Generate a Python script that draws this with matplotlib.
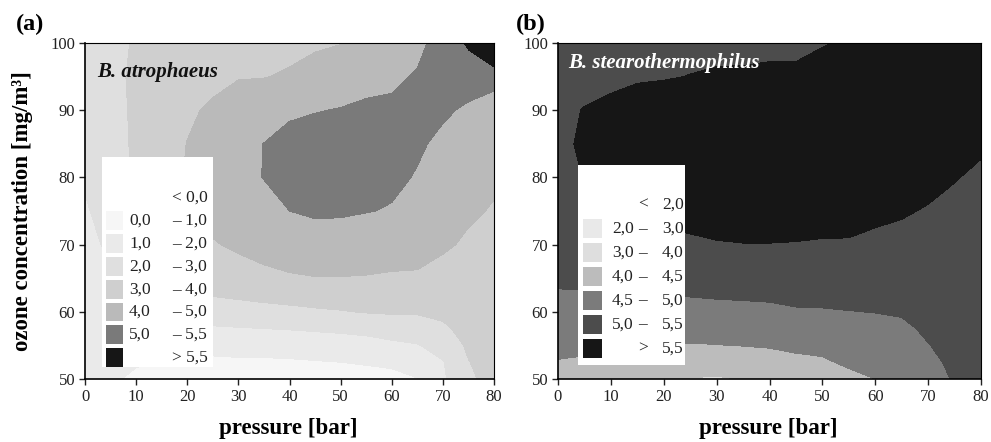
import matplotlib
matplotlib.use('Agg')
import matplotlib.pyplot as plt
import numpy as np
from matplotlib.patches import Rectangle

plt.rcParams['font.family'] = ['Liberation Serif', 'DejaVu Serif']

# grid: pressure [bar] x ozone [mg/m3]
pressure = [0, 5, 10, 15, 20, 25, 30, 35, 40, 45, 50, 55, 60, 65, 70, 75, 80]
ozone = [50, 52.5, 55, 57.5, 60, 62.5, 65, 70, 75, 80, 85, 90, 95, 100]

# log reduction, one list per pressure value (ozone from 50 to 100)
logred_a = [
    [1.3, 1.35, 1.45, 1.5, 1.55, 1.6, 1.65, 1.75, 1.9, 2.1, 2.4, 2.5, 2.55, 2.6],
    [1.08, 1.2, 1.3, 1.45, 1.6, 1.75, 1.9, 2.15, 2.4, 2.6, 2.75, 2.8, 2.85, 2.85],
    [0.9, 1.05, 1.25, 1.5, 1.8, 2.1, 2.4, 2.8, 3.05, 3.1, 3.1, 3.1, 3.1, 3.05],
    [0.8, 0.99, 1.3, 1.7, 2.1, 2.5, 2.85, 3.3, 3.55, 3.6, 3.55, 3.45, 3.3, 3.2],
    [0.75, 0.95, 1.3, 1.95, 2.5, 3.0, 3.3, 3.75, 3.97, 4.08, 4.02, 3.85, 3.5, 3.3],
    [0.72, 0.85, 1.25, 1.9, 2.5, 3.05, 3.35, 3.93, 4.3, 4.45, 4.4, 4.15, 3.75, 3.45],
    [0.72, 0.88, 1.3, 1.95, 2.6, 3.15, 3.6, 4.15, 4.55, 4.8, 4.75, 4.45, 3.95, 3.55],
    [0.72, 0.88, 1.32, 2.0, 2.7, 3.25, 3.8, 4.3, 4.75, 5.02, 5.01, 4.65, 3.97, 3.65],
    [0.72, 0.9, 1.38, 2.05, 2.8, 3.3, 3.9, 4.5, 5.0, 5.2, 5.2, 4.9, 4.1, 3.75],
    [0.72, 0.95, 1.45, 2.12, 2.88, 3.4, 3.97, 4.6, 5.12, 5.25, 5.3, 4.97, 4.4, 3.85],
    [0.74, 1.0, 1.5, 2.2, 2.95, 3.45, 3.97, 4.6, 5.1, 5.25, 5.3, 5.03, 4.65, 3.97],
    [0.78, 1.05, 1.6, 2.3, 3.05, 3.5, 3.95, 4.5, 5.03, 5.2, 5.25, 5.08, 4.85, 4.15],
    [0.84, 1.1, 1.8, 2.45, 3.1, 3.5, 3.9, 4.4, 4.95, 5.15, 5.2, 5.1, 4.9, 4.45],
    [0.98, 1.3, 1.95, 2.5, 3.1, 3.45, 3.9, 4.3, 4.6, 4.95, 5.1, 5.15, 5.05, 4.85],
    [1.85, 1.95, 2.35, 2.85, 3.2, 3.45, 3.75, 4.1, 4.4, 4.6, 4.85, 5.1, 5.25, 5.25],
    [2.85, 2.97, 3.15, 3.3, 3.45, 3.6, 3.7, 3.9, 4.1, 4.4, 4.6, 4.9, 5.3, 5.55],
    [3.3, 3.4, 3.45, 3.5, 3.55, 3.6, 3.7, 3.8, 3.95, 4.1, 4.35, 4.6, 5.3, 6.0],
]

logred_b = [
    [4.3, 4.48, 4.6, 4.72, 4.85, 4.97, 5.05, 5.15, 5.25, 5.3, 5.35, 5.38, 5.3, 5.2],
    [4.25, 4.45, 4.58, 4.72, 4.85, 4.97, 5.08, 5.25, 5.4, 5.52, 5.6, 5.52, 5.35, 5.25],
    [4.2, 4.4, 4.55, 4.7, 4.85, 4.97, 5.1, 5.3, 5.48, 5.6, 5.65, 5.6, 5.4, 5.3],
    [4.15, 4.35, 4.52, 4.68, 4.85, 4.98, 5.12, 5.35, 5.55, 5.7, 5.75, 5.7, 5.45, 5.35],
    [4.1, 4.3, 4.5, 4.67, 4.83, 5.0, 5.15, 5.4, 5.6, 5.75, 5.8, 5.75, 5.47, 5.37],
    [3.98, 4.25, 4.47, 4.68, 4.85, 5.02, 5.17, 5.43, 5.65, 5.8, 5.85, 5.8, 5.51, 5.38],
    [3.95, 4.25, 4.49, 4.7, 4.88, 5.04, 5.2, 5.47, 5.7, 5.85, 5.9, 5.85, 5.55, 5.38],
    [4.02, 4.28, 4.51, 4.72, 4.9, 5.05, 5.22, 5.49, 5.72, 5.88, 5.95, 5.9, 5.55, 5.4],
    [4.15, 4.35, 4.53, 4.73, 4.92, 5.06, 5.23, 5.49, 5.72, 5.9, 5.95, 5.9, 5.58, 5.4],
    [4.22, 4.42, 4.57, 4.77, 4.96, 5.1, 5.24, 5.48, 5.7, 5.88, 5.95, 5.92, 5.62, 5.35],
    [4.28, 4.45, 4.6, 4.78, 4.97, 5.1, 5.23, 5.46, 5.68, 5.86, 5.95, 5.95, 5.7, 5.47],
    [4.4, 4.56, 4.68, 4.82, 4.99, 5.12, 5.24, 5.46, 5.66, 5.85, 5.95, 5.95, 5.8, 5.55],
    [4.5, 4.62, 4.74, 4.87, 5.01, 5.12, 5.22, 5.42, 5.58, 5.78, 5.9, 5.95, 5.9, 5.8],
    [4.68, 4.78, 4.85, 4.94, 5.03, 5.12, 5.2, 5.38, 5.54, 5.72, 5.85, 5.92, 5.9, 5.85],
    [4.85, 4.93, 4.99, 5.05, 5.1, 5.15, 5.2, 5.32, 5.47, 5.62, 5.78, 5.88, 5.9, 5.88],
    [5.03, 5.06, 5.1, 5.13, 5.16, 5.19, 5.22, 5.3, 5.4, 5.52, 5.68, 5.82, 5.88, 5.88],
    [5.1, 5.12, 5.14, 5.16, 5.18, 5.2, 5.22, 5.27, 5.33, 5.43, 5.56, 5.72, 5.82, 5.85],
]

levels_a = [-1, 0, 1, 2, 3, 4, 5, 5.5, 7]
colors_a = ['#ffffff', '#f6f6f6', '#eaeaea', '#dfdfdf', '#cfcfcf', '#bababa', '#7a7a7a', '#161616']
low_a = ['', '0,0', '1,0', '2,0', '3,0', '4,0', '5,0', '']
high_a = ['< 0,0', '\u2013 1,0', '\u2013 2,0', '\u2013 3,0', '\u2013 4,0', '\u2013 5,0', '\u2013 5,5', '> 5,5']

levels_b = [0, 2, 3, 4, 4.5, 5, 5.5, 7]
colors_b = ['#ffffff', '#e9e9e9', '#dedede', '#bcbcbc', '#7b7b7b', '#4c4c4c', '#161616']
low_b = ['', '2,0', '3,0', '4,0', '4,5', '5,0', '']
dash_b = ['<', '\u2013', '\u2013', '\u2013', '\u2013', '\u2013', '>']
high_b = ['2,0', '3,0', '4,0', '4,5', '5,0', '5,5', '5,5']

fig = plt.figure(figsize=(9.91, 4.42), dpi=100)
ax_a = fig.add_axes([85 / 991, 63 / 442, 409 / 991, 336 / 442])
ax_b = fig.add_axes([558 / 991, 63 / 442, 423 / 991, 336 / 442])

for ax, z, lev, col in [(ax_a, logred_a, levels_a, colors_a), (ax_b, logred_b, levels_b, colors_b)]:
    ax.contourf(pressure, ozone, np.array(z).T, levels=lev, colors=col)
    ax.set_xlim(0, 80)
    ax.set_ylim(50, 100)
    ax.set_xticks(range(0, 81, 10))
    ax.set_yticks(range(50, 101, 10))
    ax.tick_params(direction='out', length=4, width=1, labelsize=12, colors='#222222', pad=3)
    for s in ['left', 'bottom']:
        ax.spines[s].set_linewidth(1.2)
    for s in ['top', 'right']:
        ax.spines[s].set_linewidth(0.8)
    ax.set_xlabel('pressure [bar]', fontsize=16.5, fontweight='bold')
    ax.xaxis.set_label_coords(0.497, -0.116)

ax_a.set_ylabel('ozone concentration [mg/m\u00b3]', fontsize=16.5, fontweight='bold')
ax_a.yaxis.set_label_coords(-0.127, 0.5)

fig.text(16 / 991, 1 - 24 / 442, '(a)', fontsize=17.5, fontweight='bold', va='center')
fig.text(516 / 991, 1 - 24 / 442, '(b)', fontsize=17.5, fontweight='bold', va='center')

ax_a.text(0.03, 0.915, 'B. atrophaeus', transform=ax_a.transAxes, fontsize=15,
          fontweight='bold', style='italic', color='#111111', va='center')
ax_b.text(0.024, 0.94, 'B. stearothermophilus', transform=ax_b.transAxes, fontsize=15,
          fontweight='bold', style='italic', color='white', va='center')

# legend (a)
ax_a.add_patch(Rectangle((0.0416, 0.0357), 0.2714, 0.625, transform=ax_a.transAxes,
                         facecolor='white', edgecolor='none', zorder=5))
for i in range(len(high_a)):
    y = 0.5387 - 0.0679 * i
    if low_a[i] or i == len(high_a) - 1:
        ax_a.add_patch(Rectangle((0.0513, y - 0.028), 0.0416, 0.056, transform=ax_a.transAxes,
                                 facecolor=colors_a[i], edgecolor='none', zorder=6))
    ax_a.text(0.1076, y, low_a[i], transform=ax_a.transAxes, fontsize=12.5, va='center',
              color='#222222', zorder=7)
    ax_a.text(0.2127, y, high_a[i], transform=ax_a.transAxes, fontsize=12.5, va='center',
              color='#222222', zorder=7)

# legend (b)
ax_b.add_patch(Rectangle((0.0473, 0.0417), 0.253, 0.595, transform=ax_b.transAxes,
                         facecolor='white', edgecolor='none', zorder=5))
for i in range(len(high_b)):
    y = 0.5179 - 0.0711 * i
    if i > 0:
        ax_b.add_patch(Rectangle((0.0591, y - 0.028), 0.0449, 0.056, transform=ax_b.transAxes,
                                 facecolor=colors_b[i], edgecolor='none', zorder=6))
    ax_b.text(0.1277, y, low_b[i], transform=ax_b.transAxes, fontsize=12.5, va='center',
              color='#222222', zorder=7)
    ax_b.text(0.189, y, dash_b[i], transform=ax_b.transAxes, fontsize=12.5, va='center',
              color='#222222', zorder=7)
    ax_b.text(0.2459, y, high_b[i], transform=ax_b.transAxes, fontsize=12.5, va='center',
              color='#222222', zorder=7)

fig.savefig('out.png', dpi=100)
